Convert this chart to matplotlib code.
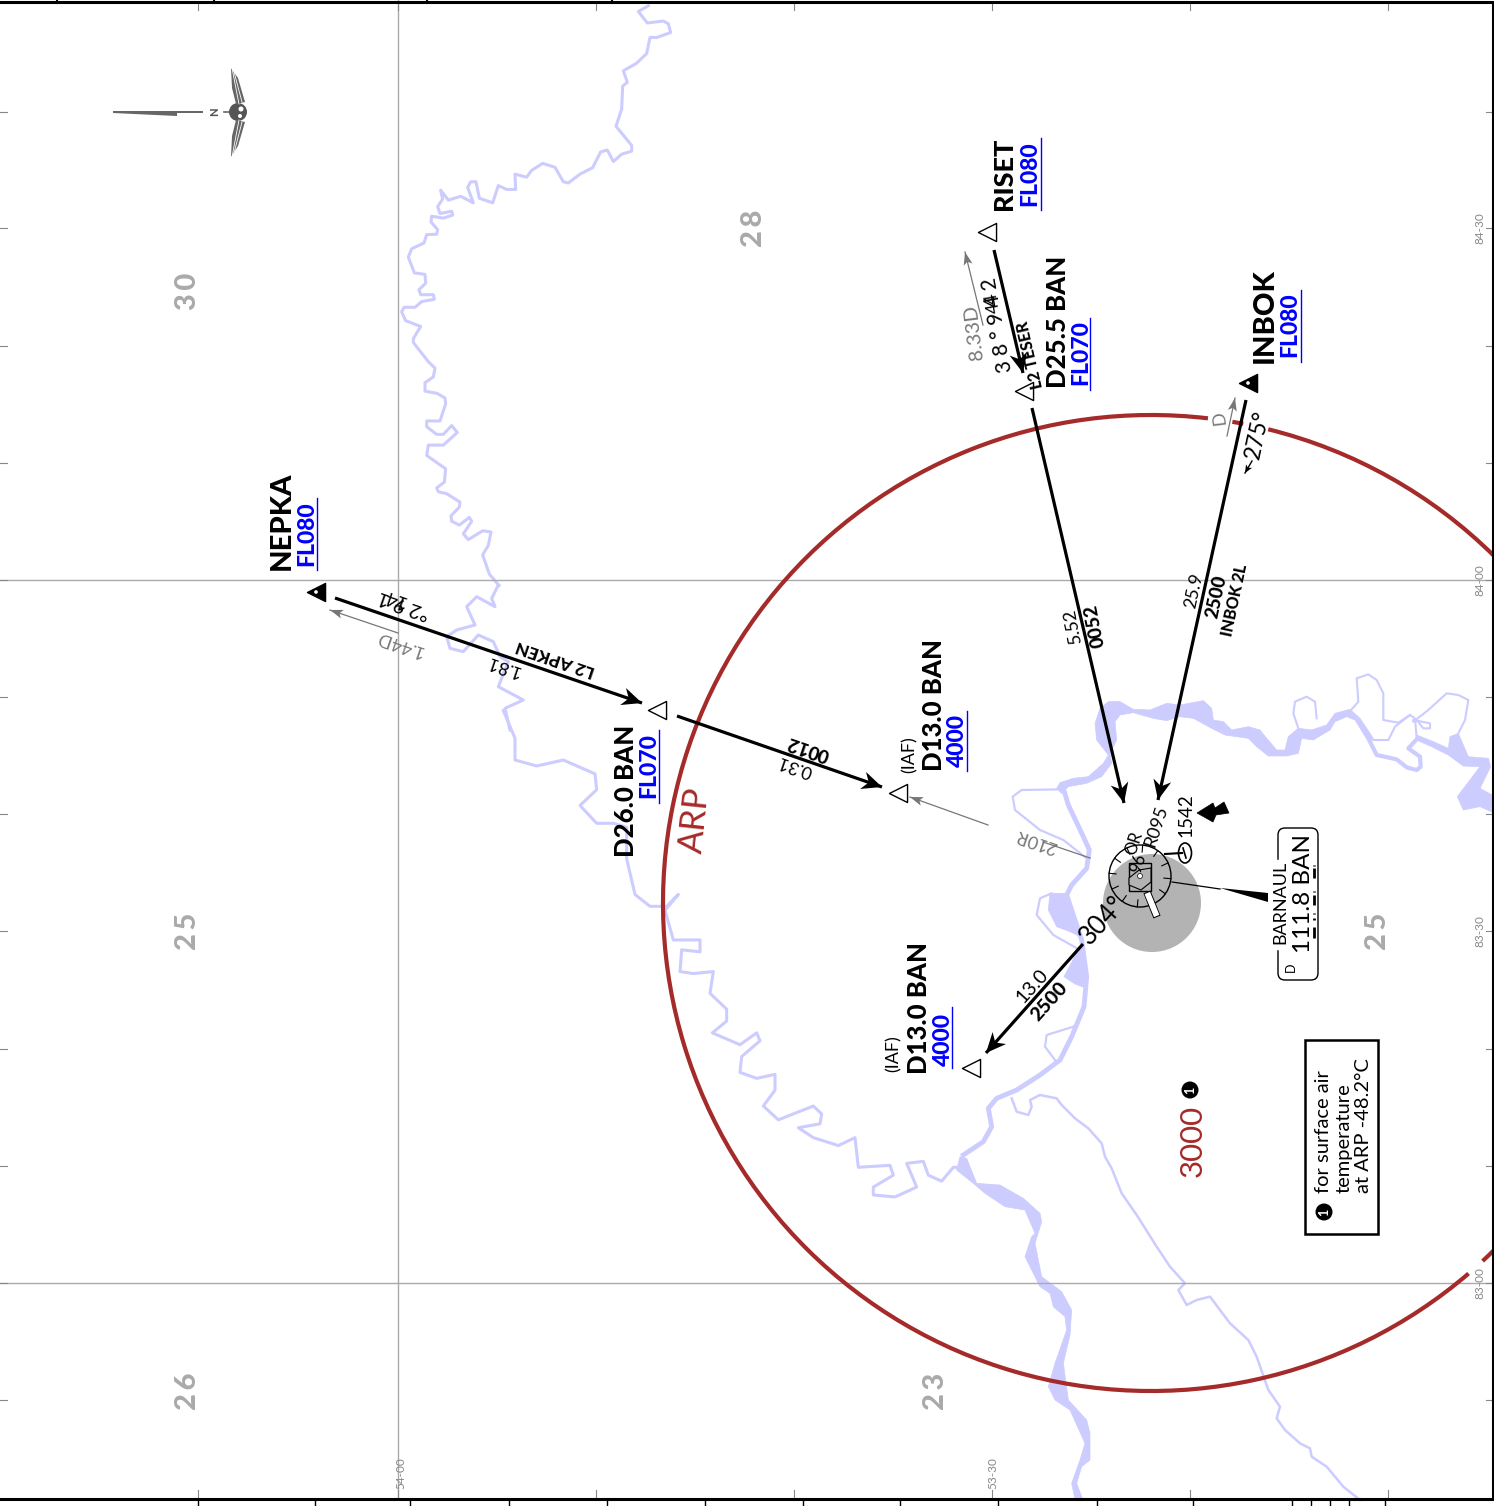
import numpy as np
import matplotlib
matplotlib.use("Agg")
import matplotlib.pyplot as plt
from matplotlib.patches import Arc, Circle, Polygon, Rectangle, FancyBboxPatch, Ellipse

plt.rcParams['font.family'] = ['Lato', 'DejaVu Sans']

river_west_a = [(745,15),(715,30),(742,60),(790,55),(805,62),(812,85),(770,98),(750,98),(740,140),(710,165),(670,185),(682,215),(668,225),(665,285),(648,330),(695,380),(695,395),(665,403),(640,422),(622,392),(602,397),(578,438),(540,455),(505,478),(490,475),(465,437),(428,427),(395,445),(380,463),(345,455),(347,495),(320,495),(295,485),(278,530),(238,518),(228,475),(212,475),(203,490),(220,530),(182,513),(145,523),(122,497),(128,520),(113,540),(120,558),(155,552),(158,562),(130,570),(95,565),(93,580),(113,600),(110,612),(80,613),(72,635),(35,650),(25,672),(43,713),(75,717),(77,740),(57,757),(62,770),(100,770),(103,782),(65,788),(45,803),(12,803),(5,815),(17,838),(62,853),(40,885),(40,895),(85,945),(105,962),(100,985),(75,1000),(75,1022),(112,1028),(135,1040),(137,1055),(120,1100),(80,1100),(80,1115),(110,1135),(130,1135),(155,1112),(172,1130),(130,1163),(85,1163),(80,1190),(137,1225),(133,1260),(110,1275),(115,1285),(140,1290),(180,1312),(178,1325),(153,1348),(155,1362),(178,1372),(208,1352),(215,1362),(190,1395),(205,1410),(248,1387),(273,1390),(265,1425),(248,1450),(268,1500),(297,1530)]
river_west_b = [(715,345),(695,385),(705,410),(650,380),(620,410),(645,465),(590,480),(560,500),(570,535),(610,545),(655,495),(700,515),(720,560),(745,575),(715,650),(790,690),(735,715),(750,780)]
river_west_c = [(70,305),(105,375),(105,430),(170,445),(250,430),(345,465),(350,505),(300,545),(350,590),(400,590),(440,600),(440,680),(465,770),(510,800),(560,800),(595,770),(555,810),(580,885),(660,885),(660,915),(605,910),(600,965),(640,970),(700,965),(690,1020),(740,1060),(740,1090),(697,1120),(780,1150),(830,1120),(840,1140),(785,1180),(780,1220),(830,1235),(885,1225),(885,1265),(850,1305),(895,1340),(1000,1305),(1025,1325),(1020,1350),(955,1360),(1000,1385),(1075,1405),(1125,1385),(1135,1460),(1230,1455),(1240,1480),(1180,1510),(1180,1530),(1245,1535),(1310,1510),(1280,1450),(1330,1445),(1345,1480),(1385,1495),(1420,1460),(1440,1460)]
river_east_a = [(50,385),(60,368),(100,355),(145,350),(190,310),(205,285),(170,240),(165,190),(180,145),(205,125),(240,125),(280,148),(330,150),(380,130),(420,135),(490,122),(515,145),(520,180),(550,185),(575,210),(625,200),(660,210),(680,235),(710,270),(735,270),(745,230),(775,205),(815,210),(860,195),(885,160),(930,148),(960,175),(1000,235),(985,245),(945,180),(920,170),(885,185),(870,210),(820,240),(785,235),(775,280),(740,288),(685,288),(650,260),(625,235),(555,225),(515,205),(460,175),(420,170),(380,182),(340,175),(280,158),(240,165),(225,185),(230,240),(210,280),(215,310),(185,350),(140,370),(85,380),(65,400)]
river_east_b = [(1130,225),(1180,245),(1225,265),(1230,230),(1255,220),(1285,290),(1345,295),(1352,320),(1320,385),(1365,410),(1365,460),(1320,440),(1270,450),(1252,410),(1320,320),(1270,318),(1225,285),(1175,260),(1130,240)]
east_loop = [(990,245),(1010,285),(1070,298),(1100,322),(1130,330),(1142,320),(1140,290),(1105,265),(1130,238)]
east_isles = [
    [(775,205),(760,160),(765,125),(800,110),(825,125),(830,175)],
    [(935,148),(955,125),(950,55),(985,43),(1010,60),(1030,100),(1030,180),(1075,188),(1110,165)],
    [(1000,240),(1045,240),(1065,200),(1110,165),(1125,175),(1130,235)],
    [(1120,180),(1170,190),(1170,205),(1150,205),(1130,180)],
    [(1120,185),(1165,150),(1220,100),(1255,105),(1285,120),(1275,180),(1255,220)],
    [(380,150),(350,160),(380,172),(420,160)],
]
river_mid = [(370,25),(385,75),(430,170),(448,210),(440,265),(395,315),(380,345),(425,480),(440,590),(432,680),(395,770),(360,840),(300,885),(230,930),(170,955),(145,985),(155,1040),(130,1085),(70,1125)]
mid_pools = [
    [(330,340),(382,340),(420,470),(390,455),(350,440),(325,390)],
    [(425,490),(442,585),(432,622),(405,612),(372,590)],
]
mid_isles = [
    [(365,28),(245,30),(218,50),(225,90),(300,150),(370,180),(440,235)],
    [(335,340),(300,355),(290,405),(340,465),(420,510)],
    [(400,740),(320,765),(315,800),(345,840)],
]
river_south = [(60,200),(80,205),(110,280),(180,285),(250,325),(300,370),(305,395),(285,460),(305,560),(365,605),(395,660),(390,735),(370,820),(385,930),(440,990),(450,1030),(450,1110),(425,1130),(410,1180),(428,1228),(405,1228),(395,1180),(420,1110),(435,1060),(390,960),(345,930),(325,890),(345,820),(380,720),(375,680),(340,650),(330,610),(300,590),(255,500),(275,440),(285,430),(255,360),(195,350),(135,310),(100,280),(50,240)]
river_branch = [(215,25),(230,65),(265,75),(275,50),(270,30),(300,15),(350,25),(365,45),(405,85),(445,115),(485,160),(495,200),(515,235),(545,310),(590,375),(650,470),(690,530),(735,580),(715,600),(740,645),(770,630),(810,620),(870,700),(925,750),(950,800),(985,900),(1020,950),(1010,985),(1035,1020),(1080,1060),(1110,1075),(1115,1100),(1160,1130),(1210,1190),(1260,1230)]

# chart frame ticks
grid_x = [398]
grid_y = [580, 1283]
inner_x = [198, 398, 596, 794, 992, 1190, 1388]
inner_y = [112, 228, 346, 463, 580, 697, 814, 931, 1049, 1166, 1283, 1400]
top_ticks = [57, 214, 427, 612]
bottom_ticks = [198, 315, 410, 509, 607, 705, 803, 900, 998, 1097, 1193, 1292, 1311, 1330, 1349, 1385]
lat_labels = ['84-30', '84-00', '83-30', '83-00']
lat_y = [228, 580, 931, 1283]
lon_labels = ['54-00', '53-30']
lon_x = [400, 992]

# minimum altitude digits
msa_text = ['3\u20090', '2\u20098', '2\u20095', '2\u20095', '2\u20096', '2\u20093']
msa_x = [186, 751, 186, 1376, 186, 934]
msa_y = [291, 228, 931, 931, 1391, 1391]

# fixes
open_fix_x = [987, 1024, 657, 898, 971]
open_fix_y = [232, 391, 710, 793, 1068]
full_fix_x = [1248, 316]
full_fix_y = [383, 592]

# route legs, start and end
legs = [((335,598),(642,703)), ((677,716),(882,787)), ((994,250),(1023,373)),
        ((1032,408),(1124,803)), ((1246,400),(1158,800)), ((1083,944),(986,1053))]
grey_legs = [((988,825),(910,797)), ((983,325),(965,252)), ((398,633),(330,610)), ((1227,436),(1235,398))]

# ARP circle, gaps in degrees
arp_c = (1151, 903)
arp_r = 488
arp_arcs = [(49.4, 276.7), (279.6, 280.9), (283.9, 407.2)]

fig = plt.figure(figsize=(14.95, 15.06), dpi=100)
ax = fig.add_axes([0, 0, 1, 1])
ax.set_xlim(0, 1495)
ax.set_ylim(1506, 0)
ax.axis('off')

BLUE = '#0000ff'
RED = '#a52a2a'
RIVER = '#ccccff'
GREY = '#777777'
HEAVY = 900


def crop(pts, x0, y0, sy=3.0):
    a = np.array(pts, dtype=float)
    a[:, 0] = a[:, 0] / 3.0 + x0
    a[:, 1] = a[:, 1] / sy + y0
    return a


def rline(pts, lw, z=1):
    ax.plot(pts[:, 0], pts[:, 1], color=RIVER, lw=lw, solid_joinstyle='round', zorder=z)


def rfill(pts):
    ax.add_patch(Polygon(pts, closed=True, fc=RIVER, ec=RIVER, lw=0.5, zorder=1))


def txt(x, y, s, size, rot=90, color='black', weight='normal', **kw):
    kw.setdefault('ha', 'center')
    kw.setdefault('va', 'center_baseline')
    ax.text(x, y, s, fontsize=size, rotation=rot, color=color, fontweight=weight,
            rotation_mode='anchor', zorder=6, **kw)


def head(p0, p1, color='black', length=20, half=9, notch=14, lw=0):
    p0 = np.array(p0, float)
    p1 = np.array(p1, float)
    d = (p1 - p0) / np.hypot(*(p1 - p0))
    n = np.array([-d[1], d[0]])
    pts = [p1, p1 - d*length + n*half, p1 - d*notch, p1 - d*length - n*half]
    ax.add_patch(Polygon(pts, closed=True, fc=color, ec=color, lw=lw, zorder=5))


# rivers
rline(crop(river_west_a, 400, 0, 2.613), 2.2)
rline(crop(river_west_b, 260, 470), 2.2)
rline(crop(river_west_c, 480, 590, 2.529), 2.2)
rfill(crop(river_east_a, 1040, 660))
rfill(crop(river_east_b, 1040, 660))
rline(crop(east_loop, 1040, 660), 3.0)
for isle in east_isles:
    rline(crop(isle, 1040, 660), 1.5)
rline(crop(river_mid, 940, 780), 3.5)
for pool in mid_pools:
    rfill(crop(pool, 940, 780))
for isle in mid_isles:
    rline(crop(isle, 940, 780), 1.6)
rfill(crop(river_south, 940, 1090))
rline(crop(river_branch, 940, 1090), 1.8)

# grid and frame
for x in grid_x:
    ax.plot([x, x], [0, 1499], color='#aaaaaa', lw=1.0, zorder=2)
for y in grid_y:
    ax.plot([0, 1493], [y, y], color='#aaaaaa', lw=1.0, zorder=2)
for x in inner_x:
    ax.plot([x, x], [2, 10], color='#888888', lw=0.8, zorder=2)
    ax.plot([x, x], [1490, 1499], color='#888888', lw=0.8, zorder=2)
for y in inner_y:
    ax.plot([0, 7], [y, y], color='#888888', lw=0.8, zorder=2)
    ax.plot([1486, 1493], [y, y], color='#888888', lw=0.8, zorder=2)
for x in top_ticks:
    ax.plot([x, x], [0, 3], color='black', lw=1.5, zorder=7)
for x in bottom_ticks:
    ax.plot([x, x], [1499, 1506], color='black', lw=1.0, zorder=7)
ax.plot([0, 1493, 1493, 0], [2, 2, 1499, 1499], color='black', lw=2.2, zorder=7)
ax.add_patch(Rectangle((1494, 0), 1, 1506, fc='white', ec='none', zorder=8))

for s, y in zip(lat_labels, lat_y):
    txt(1479, y, s, 8.5, color='#888888')
for s, x in zip(lon_labels, lon_x):
    txt(x, 1473, s, 8.5, color='#888888')
for s, x, y in zip(msa_text, msa_x, msa_y):
    txt(x, y, s, 21, color='#aaaaaa', weight=HEAVY)

# ARP circle
for a, b in arp_arcs:
    ax.add_patch(Arc(arp_c, 2*arp_r, 2*arp_r, theta1=a, theta2=b, color=RED, lw=3.0, zorder=3))
txt(692, 820, 'ARP', 25, rot=84, color=RED)
txt(1190, 1141, '3000', 22.5, color=RED)

# airport
ax.add_patch(Circle((1152, 903), 49, fc='#b3b3b3', ec='none', zorder=2))
ax.add_patch(Circle((1140, 876), 31, fc='none', ec='black', lw=1.0, zorder=4))
for ang in range(0, 360, 30):
    t = np.radians(ang + 5)
    ax.plot([1140 + 24*np.cos(t), 1140 + 31*np.cos(t)], [876 + 24*np.sin(t), 876 + 31*np.sin(t)],
            color='black', lw=0.8, zorder=4)
ax.add_patch(Rectangle((1129, 863), 22, 28, fc='none', ec='black', lw=1.0, zorder=4))
ax.add_patch(Polygon([(1129,878),(1139,870),(1151,868),(1151,882),(1141,890),(1129,885)], closed=True,
                     fc='#b3b3b3', ec='black', lw=0.8, zorder=4))
ax.add_patch(Circle((1140, 876), 2.5, fc='white', ec='black', lw=0.5, zorder=5))
ax.plot([1147, 1157], [892, 917], color='black', lw=5.5, solid_capstyle='butt', zorder=4)
ax.plot([1147.3, 1156.7], [893, 916], color='white', lw=4.2, solid_capstyle='butt', zorder=5)
txt(1133, 843, 'OR', 12, rot=72)
txt(1137, 863, '96', 12, rot=72)
txt(1155, 826, 'R095', 13, rot=72)
txt(1184, 815, '1542', 13.5)
ax.plot([1165, 1182], [854, 853], color='black', lw=1.5, zorder=5)
ax.add_patch(Ellipse((1185, 853), 13, 20, fc='none', ec='black', lw=1.2, zorder=5))
ax.plot([1183, 1186], [848, 858], color='black', lw=1.2, zorder=5)
ax.add_patch(Polygon([(1197,813),(1213,803),(1215,808),(1224,802),(1229,813),(1216,815),(1213,822)],
                     closed=True, fc='black', ec='black', lw=0.5, zorder=5))

# VOR box
ax.plot([1172, 1220], [882, 889], color='black', lw=0.9, zorder=5)
ax.add_patch(Polygon([(1220,888),(1268,893),(1268,902)], closed=True, fc='black', ec='none', zorder=5))
ax.add_patch(FancyBboxPatch((1283, 833), 30, 142, boxstyle='round,pad=5,rounding_size=7',
                            fc='white', ec='black', lw=1.0, zorder=4))
ax.plot([1278, 1278], [861, 948], color='white', lw=2.5, zorder=4.5)
txt(1279, 902, 'BARNAUL', 13)
txt(1301, 893, '111.8 BAN', 17.5)
txt(1290, 967, 'D', 9)
for a, b in [(927,938), (918,919.5), (913,914), (895,905), (891,892), (868,878), (865,866)]:
    ax.plot([1314, 1314], [a, b], color='black', lw=2.0, solid_capstyle='butt', zorder=6)

# routes
for p0, p1 in legs:
    ax.plot([p0[0], p1[0]], [p0[1], p1[1]], color='black', lw=2.3, solid_capstyle='butt', zorder=4)
    head(p0, p1)
for p0, p1 in grey_legs:
    ax.plot([p0[0], p1[0]], [p0[1], p1[1]], color=GREY, lw=0.9, zorder=4)
    head(p0, p1, color=GREY, length=13, half=4.5, notch=10)
ax.plot([1090, 1043], [858, 842], color=GREY, lw=0.9, zorder=4)
ax.plot([1252, 1245], [461, 473], color='black', lw=1.0, zorder=4)
head((1252, 461), (1245, 473), length=8, half=3.5, notch=6)

ax.scatter(open_fix_x, open_fix_y, marker='<', s=170, facecolor='white', edgecolor='black', linewidth=1.0, zorder=5)
ax.scatter(full_fix_x, full_fix_y, marker='<', s=170, facecolor='black', edgecolor='black', linewidth=1.0, zorder=5)
ax.scatter(full_fix_x, full_fix_y, marker='o', s=7, facecolor='white', edgecolor='none', zorder=6)

# fix names
txt(1002, 174, 'RISET', 19.5, weight=HEAVY)
txt(1028, 174, 'FL080', 16.5, color=BLUE, weight=HEAVY)
txt(1056, 322, 'D25.5 BAN', 18.5, weight=HEAVY)
txt(1079, 353, 'FL070', 16.5, color=BLUE, weight=HEAVY)
txt(1262, 316, 'INBOK', 21, weight=HEAVY)
txt(1288, 325, 'FL080', 16.5, color=BLUE, weight=HEAVY)
txt(279, 521, 'NEPKA', 21, weight=HEAVY)
txt(305, 534, 'FL080', 16.5, color=BLUE, weight=HEAVY)
txt(624, 791, 'D26.0 BAN', 18.5, weight=HEAVY)
txt(647, 766, 'FL070', 16.5, color=BLUE, weight=HEAVY)
txt(908, 755, '(IAF)', 13)
txt(932, 705, 'D13.0 BAN', 18.5, weight=HEAVY)
txt(955, 740, '4000', 16.5, color=BLUE, weight=HEAVY)
txt(892, 1054, '(IAF)', 13)
txt(917, 1008, 'D13.0 BAN', 18.5, weight=HEAVY)
txt(941, 1040, '4000', 16.5, color=BLUE, weight=HEAVY)
for x, a, b in [(1041,138,210), (1090,318,390), (1301,290,362), (317,498,570), (659,730,803), (967,711,771), (952,1007,1068)]:
    ax.plot([x, x], [a, b], color=BLUE, lw=1.0, zorder=6)

# leg labels
txt(555, 660, 'L2 APKEN', 12.5, rot=161, weight=HEAVY)
txt(503, 667, '1.81', 13, rot=161)
txt(403, 606, '\u00b02 9 1', 14.5, rot=161)
txt(394, 600, '14', 14.5, rot=161)
txt(399, 645, '1.44D', 13, rot=161, color=GREY)
txt(808, 750, '0012', 13.5, rot=161, weight=HEAVY)
txt(795, 767, '0.31', 13, rot=161)
txt(1036, 842, '210R', 13, rot=161, color=GREY)
txt(1071, 626, '5.52', 13, rot=101)
txt(1094, 626, '0052', 13.5, rot=101, weight=HEAVY)
txt(1193, 590, '25.9', 13, rot=78)
txt(1215, 596, '2500', 13.5, rot=78, weight=HEAVY)
txt(1233, 600, 'INBOK 2L', 11.5, rot=78, weight=HEAVY)
txt(1256, 434, '275\u00b0', 16.5, rot=78)
txt(1218, 418, 'D', 13, rot=97, color=GREY)
txt(1101, 919, '304\u00b0', 18.5, rot=48)
txt(1031, 985, '13.0', 14, rot=48)
txt(1048, 1000, '2500', 14, rot=48, weight=HEAVY)
txt(996, 325, '3 8 \u00b0 9 4 2', 15, rot=100)
txt(992, 303, '44', 13, rot=100)
txt(1029, 355, 'L2 TESER', 11.5, rot=103, weight=HEAVY)
txt(973, 332, '8.33D', 14.5, rot=97, color=GREY)

# note
ax.add_patch(Rectangle((1305, 1040), 73, 194, fc='white', ec='black', lw=1.8, zorder=4))
txt(1322, 1193, 'for surface air', 14.5, ha='left')
txt(1343, 1193, 'temperature', 14.5, ha='left')
txt(1362, 1193, 'at ARP -48.2\u00b0C', 14.5, ha='left')
for x, y in [(1324, 1212), (1190, 1090)]:
    ax.add_patch(Circle((x, y), 8.5, fc='black', ec='none', zorder=6))
    ax.text(x, y, '1', fontsize=9, color='white', fontweight='bold', rotation=90, ha='center', va='center', zorder=7)

# north mark
ax.add_patch(Polygon([(113,111),(203,111),(203,113),(177,113),(177,116),(113,113)], closed=True, fc='#666666', ec='none', zorder=5))
txt(214, 112, 'N', 8, color='#555555', weight=HEAVY)
ax.plot([224, 232], [112, 112], color='#666666', lw=1.2, zorder=5)
ax.add_patch(Circle((238, 112), 9, fc='#555555', ec='none', zorder=5))
ax.add_patch(Circle((241, 109), 2.5, fc='white', ec='none', zorder=6))
ax.add_patch(Circle((240, 116), 2, fc='white', ec='none', zorder=6))
for wing in [[(231,68),(238,78),(245,102),(236,104),(232,88)], [(231,157),(238,146),(245,122),(236,120),(232,136)]]:
    ax.add_patch(Polygon(wing, closed=True, fc='#666666', ec='none', zorder=5))
    ax.plot([wing[0][0]+1, wing[3][0]+3], [wing[0][1], wing[3][1]], color='white', lw=0.6, zorder=6)
    ax.plot([wing[0][0]+2, wing[2][0]-3], [wing[0][1], wing[2][1]], color='white', lw=0.6, zorder=6)

fig.savefig('out.png', dpi=100)
